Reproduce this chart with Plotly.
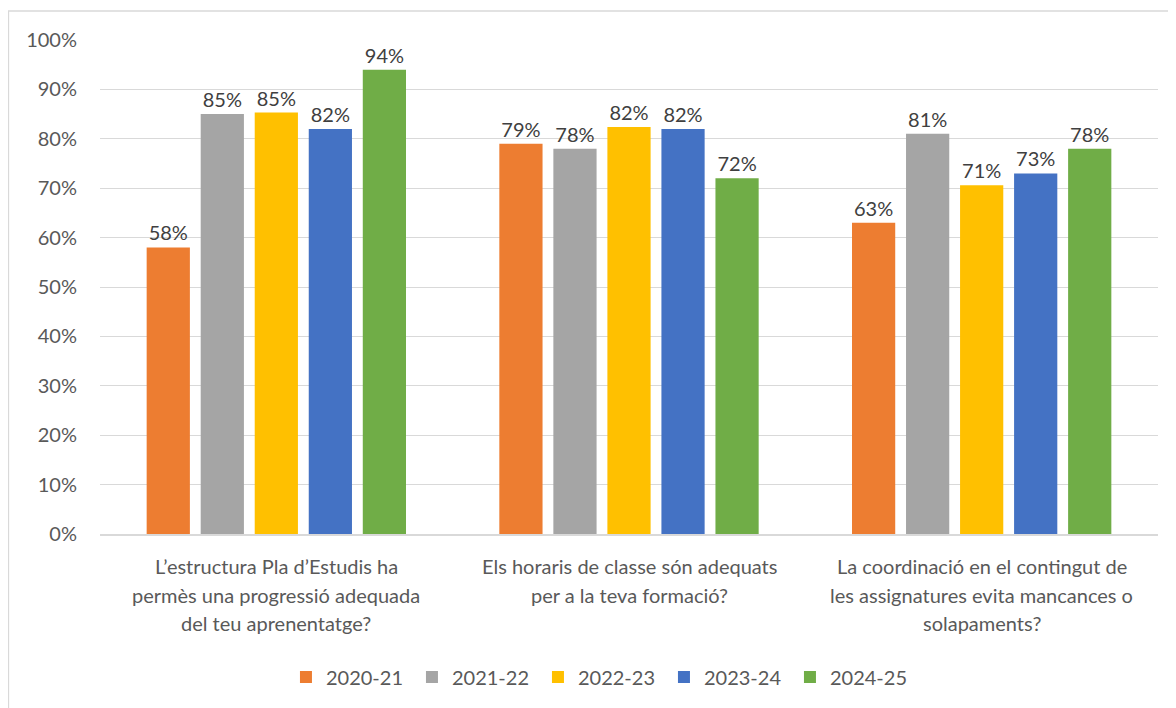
import plotly.graph_objects as go

category_lines = [
    ["L’estructura Pla d’Estudis ha", "permès una progressió adequada", "del teu aprenentatge?"],
    ["Els horaris de classe són adequats", "per a la teva formació?"],
    ["La coordinació en el contingut de", "les assignatures evita mancances o", "solapaments?"],
]
categories = [" ".join(lines) for lines in category_lines]
series_names = ["2020-21", "2021-22", "2022-23", "2023-24", "2024-25"]
v_2020_21 = [58, 79, 63]
v_2021_22 = [85, 78, 81]
v_2022_23 = [85.3, 82.4, 70.6]
v_2023_24 = [82, 82, 73]
v_2024_25 = [94, 72, 78]
series_values = [v_2020_21, v_2021_22, v_2022_23, v_2023_24, v_2024_25]
colors = ["#ED7D31", "#A5A5A5", "#FFC000", "#4472C4", "#70AD47"]

FONT = "Lato, 'Open Sans', sans-serif"

fig = go.Figure()
for name, vals, col in zip(series_names, series_values, colors):
    fig.add_trace(go.Bar(
        x=categories, y=vals, name=name,
        marker=dict(color=col, line=dict(width=0)),
        text=[f"{round(v):.0f}%" for v in vals],
        textposition="outside",
        textfont=dict(size=20, color="#404040", family=FONT),
        cliponaxis=False,
    ))

annotations = []
for cat, lines in zip(categories, category_lines):
    for i, line in enumerate(lines):
        annotations.append(dict(
            x=cat, xref="x", y=0, yref="paper",
            text=line, showarrow=False,
            xanchor="center", yanchor="middle",
            yshift=-32 - 28.5 * i,
            font=dict(family=FONT, size=20, color="#595959"),
        ))

fig.update_layout(
    width=1168, height=700,
    margin=dict(l=92, r=18, t=32, b=174, autoexpand=False),
    paper_bgcolor="white", plot_bgcolor="white",
    barmode="group", bargap=0.234, bargroupgap=0.2,
    font=dict(family=FONT, size=20, color="#595959"),
    xaxis=dict(
        showticklabels=False, showline=True, linecolor="#D9D9D9", linewidth=1.5,
        ticks="",
    ),
    yaxis=dict(
        range=[0, 100], dtick=10, ticksuffix="%",
        showgrid=True, gridcolor="#D9D9D9", gridwidth=1.3,
        zeroline=False, ticks="", tickfont=dict(size=20, color="#595959"),
        ticklabelstandoff=22,
    ),
    legend=dict(
        orientation="h", x=0.4735, xanchor="center", y=-0.2895, yanchor="middle",
        font=dict(size=20, color="#595959"), itemwidth=30,
        entrywidth=81, entrywidthmode="pixels",
        traceorder="normal",
    ),
    showlegend=True,
    annotations=annotations,
    shapes=[dict(
        type="rect", xref="paper", yref="paper",
        x0=-0.0865, x1=1.05, y0=-0.40, y1=1.0587,
        line=dict(color="#D9D9D9", width=1.3), fillcolor="rgba(0,0,0,0)",
        layer="below",
    )],
)

fig.write_html("out.html")
